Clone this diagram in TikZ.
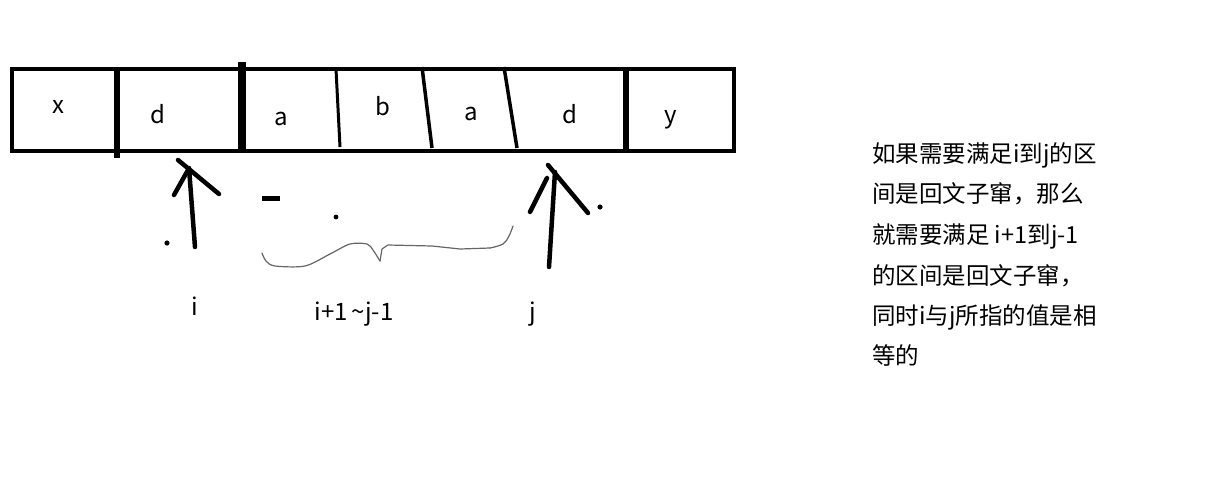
\documentclass[tikz,border=0pt]{standalone}
\usepackage{fontspec}
\setmainfont{Noto Sans CJK SC}
\begin{document}
\begin{tikzpicture}[x=1pt,y=-1pt,
  outline/.style={line width=4pt},
  cell/.style={font=\fontsize{24}{24}\selectfont, anchor=base, inner sep=0pt},
  stroke/.style={line width=4.5pt, line cap=round},
  dotmark/.style={fill=black, draw=none},
  brace/.style={line width=1.2pt, draw=black!60, line cap=round, line join=round},
  note/.style={font=\fontsize{23.5}{23.5}\selectfont, anchor=base west, inner sep=0pt}]
\useasboundingbox (0,0) rectangle (1224,482);
% array outline
\draw[outline] (12,68.5) rectangle (734,150.5);
% separators
\draw[line width=6pt] (117,68) -- (117,158);
\draw[line width=8pt] (242,62) -- (242,153);
\draw[line width=3pt] (336,69) -- (340,147);
\draw[line width=3.5pt] (422,67) -- (432,148);
\draw[line width=3.5pt] (504,67) -- (517,148);
\draw[line width=6pt] (625.5,68) -- (625.5,152);
% cell letters
\node[cell] (cx) at (58,113) {x};
\node[cell] (cd1) at (158,123) {d};
\node[cell] (ca1) at (281,125) {a};
\node[cell] (cb) at (383,115) {b};
\node[cell] (ca2) at (471,120) {a};
\node[cell] (cd2) at (570,123) {d};
\node[cell] (cy) at (671,123) {y};
% arrow i
\coordinate (itail) at (195,247);
\coordinate (itip) at (189,168);
\draw[stroke] (itail) -- (itip);
\draw[stroke] (174,195) -- (188,170);
\draw[stroke] (178,160) -- (219,194);
% arrow j
\coordinate (jtail) at (549,267);
\coordinate (jtip) at (555,172);
\draw[stroke] (jtail) -- (jtip);
\draw[stroke] (530,212) -- (547,178);
\draw[stroke] (548,165) -- (588,213);
% stray marks
\fill[dotmark] (167,243) circle (2.6);
\fill[dotmark] (336,217) circle (2.4);
\fill[dotmark] (600,207) circle (2.6);
\draw[line width=5pt] (262,198) -- (280,198);
% brace
\draw[brace] plot[smooth, tension=0.5] coordinates {(262,253) (266,261) (275,266) (305,266) (330,254) (350,244) (367,244) (373,250) (380,261)};
\draw[brace] (380,261) -- (382,249) -- (388,245) -- (432,246) -- (460,249) -- (490,248);
\draw[brace] plot[smooth, tension=0.6] coordinates {(490,248) (503,244) (509,236) (513,226)};
% labels
\node[cell] (li) at (195,315) {i};
\node[cell] (lmid) at (354,320) {i+1\,\textasciitilde j-1};
\node[cell] (lj) at (533,320) {j};
% note
\node[note] (n1) at (872,162) {如果需要满足i到j的区};
\node[note] (n2) at (872,202) {间是回文子窜，那么};
\node[note] (n3) at (872,243) {就需要满足 i+1到j-1};
\node[note] (n4) at (872,284) {的区间是回文子窜，};
\node[note] (n5) at (872,324) {同时i与j所指的值是相};
\node[note] (n6) at (872,364) {等的};
\end{tikzpicture}
\end{document}
